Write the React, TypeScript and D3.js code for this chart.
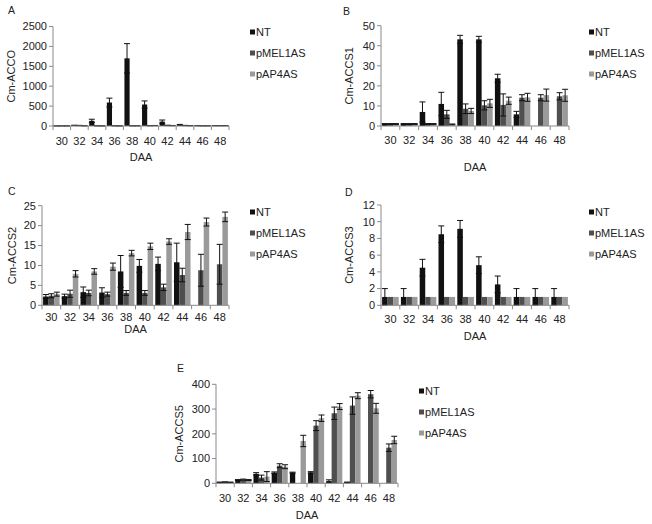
import React from "react";
import * as d3 from "d3";

const days = ["30", "32", "34", "36", "38", "40", "42", "44", "46", "48"];
const seriesNames = ["NT", "pMEL1AS", "pAP4AS"];
const seriesColors = ["#111111", "#4f4f4f", "#9a9a9a"];

// A - Cm-ACCO
const accoNT = [2, 15, 130, 590, 1700, 540, 110, 30, 8, 8];
const accoNTErr = [2, 5, 40, 110, 370, 90, 40, 10, 3, 3];
const accoMEL = [3, 12, 5, 5, 5, 8, 15, 12, 5, 8];
const accoMELErr = [2, 4, 2, 2, 2, 3, 5, 4, 2, 3];
const accoAP4 = [3, 5, 3, 3, 5, 10, 10, 8, 5, 8];
const accoAP4Err = [2, 2, 2, 2, 2, 3, 3, 3, 2, 3];

// B - Cm-ACCS1
const accs1NT = [1, 1, 7, 11, 43.2, 43.2, 23.8, 5.8, 0, 0];
const accs1NTErr = [0.2, 0.2, 5, 5.8, 2, 1.5, 2, 1.5, 0, 0];
const accs1MEL = [1, 1, 1, 5.8, 8.6, 10.3, 10.5, 14.1, 14.1, 14.8];
const accs1MELErr = [0.2, 0.2, 0.2, 2, 2.4, 2.3, 5.5, 1.5, 1.5, 1.8];
const accs1AP4 = [1, 1, 1, 0.8, 7.5, 11.3, 12.6, 14.3, 15.4, 15.3];
const accs1AP4Err = [0.2, 0.2, 0.2, 0.2, 1.3, 2, 1.8, 2, 3, 3];

// C - Cm-ACCS2
const accs2NT = [2.2, 2.3, 3.3, 3.2, 8.5, 9.9, 10.4, 10.8, 0, 0];
const accs2NTErr = [0.5, 0.5, 1.3, 1.2, 4, 1.6, 1.7, 4.8, 0, 0];
const accs2MEL = [2.4, 2.9, 3.1, 2.8, 3.1, 3.1, 4.5, 7.6, 8.8, 10.3];
const accs2MELErr = [0.5, 0.9, 0.7, 0.5, 0.6, 0.6, 0.8, 1.7, 4, 5];
const accs2AP4 = [2.8, 7.9, 8.5, 9.7, 13.1, 14.8, 16, 18.4, 20.9, 22.2];
const accs2AP4Err = [0.5, 0.8, 0.7, 0.9, 0.7, 0.8, 0.7, 1.9, 1, 1.2];

// D - Cm-ACCS3
const accs3NT = [1, 1, 4.5, 8.5, 9.15, 4.8, 2.5, 1, 1, 1];
const accs3NTErr = [1, 1, 1, 1, 1, 1, 1, 1, 1, 1];
const accs3MEL = [1, 1, 1, 1, 1, 1, 1, 1, 1, 1];
const accs3MELErr = [0, 0, 0, 0, 0, 0, 0, 0, 0, 0];
const accs3AP4 = [1, 1, 1, 1, 1, 1, 1, 1, 1, 1];
const accs3AP4Err = [0, 0, 0, 0, 0, 0, 0, 0, 0, 0];

// E - Cm-ACCS5
const accs5NT = [4, 13, 38, 43, 43, 44, 9, 4, 0, 0];
const accs5NTErr = [1, 2, 5, 3, 2, 3, 5, 1, 0, 0];
const accs5MEL = [5, 15, 23, 71, 0, 233, 283, 314, 360, 144];
const accs5MELErr = [1, 2, 10, 8, 0, 20, 25, 35, 15, 15];
const accs5AP4 = [4, 13, 27, 67, 171, 263, 310, 354, 303, 175];
const accs5AP4Err = [1, 2, 20, 8, 23, 13, 12, 12, 20, 15];

const FONT = "'Liberation Sans', Arial, sans-serif";
const TXT = "#222";
const AXIS = "#8a8a8a";
const FS = 11;

type PanelProps = {
  letter: string;
  letterX: number;
  letterY: number;
  title: string;
  titleX: number;
  left: number;
  right: number;
  y0: number;
  yTop: number;
  yMax: number;
  yStep: number;
  catY: number;
  daaY: number;
  legendX: number;
  legendY: number[];
  values: number[][];
  errors: number[][];
};

function Panel(p: PanelProps) {
  const x = d3.scaleBand<string>().domain(days).range([p.left, p.right]);
  const inner = d3
    .scaleBand<number>()
    .domain([0, 1, 2])
    .range([0, x.bandwidth()])
    .paddingOuter(0.2);
  const y = d3.scaleLinear().domain([0, p.yMax]).range([p.y0, p.yTop]);
  const ticks = d3.range(0, p.yMax + p.yStep / 2, p.yStep);
  const bw = inner.bandwidth();
  const bounds = days.map((d) => x(d) as number).concat([p.right]);

  return (
    <g>
      <text x={p.letterX} y={p.letterY} fontSize={10.5} fill={TXT} fontFamily={FONT}>
        {p.letter}
      </text>
      <text
        transform={`translate(${p.titleX},${(p.y0 + p.yTop) / 2}) rotate(-90)`}
        textAnchor="middle"
        fontSize={FS}
        fill={TXT}
        fontFamily={FONT}
      >
        {p.title}
      </text>
      {ticks.map((t) => (
        <g key={t}>
          <line x1={p.left - 4} x2={p.left} y1={y(t)} y2={y(t)} stroke={AXIS} />
          <text
            x={p.left - 6}
            y={y(t)}
            dy="0.35em"
            textAnchor="end"
            fontSize={FS}
            fill={TXT}
            fontFamily={FONT}
          >
            {t}
          </text>
        </g>
      ))}
      <line x1={p.left} x2={p.left} y1={p.yTop} y2={p.y0} stroke={AXIS} />
      {p.values.map((vals, s) =>
        vals.map((v, i) => {
          const bx = (x(days[i]) as number) + (inner(s) as number);
          return (
            <rect
              key={`${s}-${i}`}
              x={bx}
              y={y(v)}
              width={bw}
              height={p.y0 - y(v)}
              fill={seriesColors[s]}
            />
          );
        })
      )}
      {p.errors.map((errs, s) =>
        errs.map((e, i) => {
          if (!e) return null;
          const v = p.values[s][i];
          const cx = (x(days[i]) as number) + (inner(s) as number) + bw / 2;
          const lo = y(Math.max(0, v - e));
          const hi = y(v + e);
          return (
            <g key={`e${s}-${i}`} stroke="#111" strokeWidth={1}>
              <line x1={cx} x2={cx} y1={lo} y2={hi} />
              <line x1={cx - 3} x2={cx + 3} y1={hi} y2={hi} />
              <line x1={cx - 3} x2={cx + 3} y1={lo} y2={lo} />
            </g>
          );
        })
      )}
      <line x1={p.left} x2={p.right} y1={p.y0} y2={p.y0} stroke={AXIS} />
      {bounds.map((b, i) => (
        <line key={i} x1={b} x2={b} y1={p.y0} y2={p.y0 + 4} stroke={AXIS} />
      ))}
      {days.map((d) => (
        <text
          key={d}
          x={(x(d) as number) + x.bandwidth() / 2}
          y={p.catY}
          dy="0.35em"
          textAnchor="middle"
          fontSize={FS}
          fill={TXT}
          fontFamily={FONT}
        >
          {d}
        </text>
      ))}
      <text
        x={(p.left + p.right) / 2}
        y={p.daaY}
        dy="0.35em"
        textAnchor="middle"
        fontSize={FS}
        fill={TXT}
        fontFamily={FONT}
      >
        DAA
      </text>
      {seriesNames.map((n, s) => (
        <g key={n}>
          <rect x={p.legendX} y={p.legendY[s] - 2.5} width={5} height={5} fill={seriesColors[s]} />
          <text
            x={p.legendX + 6}
            y={p.legendY[s]}
            dy="0.35em"
            fontSize={FS}
            fill={TXT}
            fontFamily={FONT}
          >
            {n}
          </text>
        </g>
      ))}
    </g>
  );
}

export default function App() {
  return (
    <svg
      width={652}
      height={524}
      style={{ position: "absolute", left: 0, top: 0, background: "#fff" }}
    >
      <Panel
        letter="A" letterX={8} letterY={14} title="Cm-ACCO" titleX={15}
        left={53} right={229} y0={126} yTop={26.5} yMax={2500} yStep={500}
        catY={141} daaY={157} legendX={250} legendY={[32, 53, 74]}
        values={[accoNT, accoMEL, accoAP4]}
        errors={[accoNTErr, accoMELErr, accoAP4Err]}
      />
      <Panel
        letter="B" letterX={343} letterY={15} title="Cm-ACCS1" titleX={353}
        left={381} right={569} y0={126} yTop={25.7} yMax={50} yStep={10}
        catY={140} daaY={167} legendX={589} legendY={[32, 53, 74]}
        values={[accs1NT, accs1MEL, accs1AP4]}
        errors={[accs1NTErr, accs1MELErr, accs1AP4Err]}
      />
      <Panel
        letter="C" letterX={8} letterY={195} title="Cm-ACCS2" titleX={16}
        left={42} right={229} y0={305.3} yTop={205.7} yMax={25} yStep={5}
        catY={317.5} daaY={329} legendX={250} legendY={[212, 233, 254]}
        values={[accs2NT, accs2MEL, accs2AP4]}
        errors={[accs2NTErr, accs2MELErr, accs2AP4Err]}
      />
      <Panel
        letter="D" letterX={345} letterY={196} title="Cm-ACCS3" titleX={353}
        left={381} right={569} y0={305.3} yTop={205} yMax={12} yStep={2}
        catY={319} daaY={336} legendX={589} legendY={[212, 233, 254]}
        values={[accs3NT, accs3MEL, accs3AP4]}
        errors={[accs3NTErr, accs3MELErr, accs3AP4Err]}
      />
      <Panel
        letter="E" letterX={177} letterY={372} title="Cm-ACCS5" titleX={183}
        left={216} right={398} y0={483.3} yTop={384.3} yMax={400} yStep={100}
        catY={498.5} daaY={515} legendX={419} legendY={[391, 412, 433]}
        values={[accs5NT, accs5MEL, accs5AP4]}
        errors={[accs5NTErr, accs5MELErr, accs5AP4Err]}
      />
    </svg>
  );
}
